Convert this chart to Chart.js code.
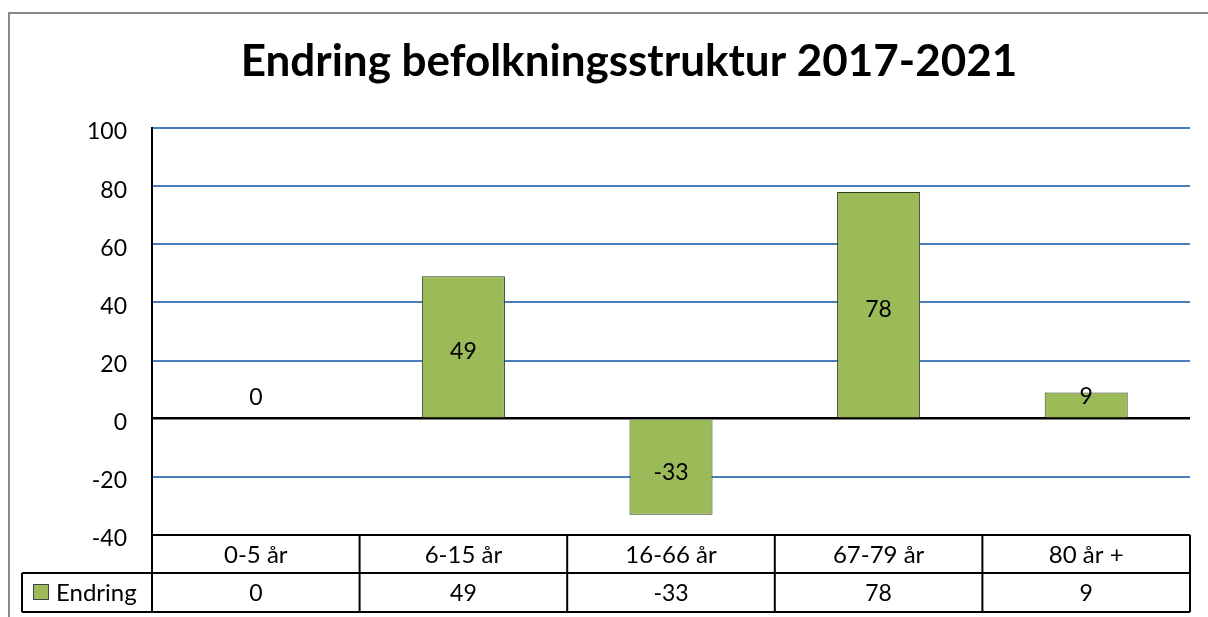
<!DOCTYPE html>
<html><head><meta charset="utf-8">
<script src="https://cdn.jsdelivr.net/npm/chart.js@4"></script>
<style>html,body{margin:0;padding:0;background:#fff}#c{display:block}</style>
</head><body>
<div style="width:1208px;height:617px"><canvas id="c" width="1208" height="617"></canvas></div>
<script>
const titleText = 'Endring befolkningsstruktur 2017-2021';
const categories = ['0-5 år', '6-15 år', '16-66 år', '67-79 år', '80 år +'];
const seriesName = 'Endring';
const values = [0, 49, -33, 78, 9];
const yTicks = [-40, -20, 0, 20, 40, 60, 80, 100];

const FONT = 'Lato, "Open Sans", sans-serif';
const GREEN = '#9BBB59';

const decor = {
  id: 'decor',
  beforeDraw(chart) {
    const ctx = chart.ctx;
    ctx.save();
    ctx.strokeStyle = '#888';
    ctx.lineWidth = 2;
    ctx.beginPath();
    ctx.moveTo(9, 640); ctx.lineTo(9, 13); ctx.lineTo(1210, 13);
    ctx.stroke();
    ctx.fillStyle = '#000';
    ctx.font = 'bold 44px ' + FONT;
    ctx.textAlign = 'center'; ctx.textBaseline = 'alphabetic';
    ctx.fillText(titleText, 629, 76);
    ctx.restore();
  },
  afterDraw(chart) {
    const ctx = chart.ctx;
    const x = chart.scales.x, area = chart.chartArea;
    const meta = chart.getDatasetMeta(0);
    ctx.save();
    // data labels
    ctx.font = '23px ' + FONT;
    ctx.fillStyle = '#000';
    ctx.textAlign = 'center'; ctx.textBaseline = 'middle';
    meta.data.forEach((bar, i) => {
      const v = values[i];
      let y = (bar.y + bar.base) / 2;
      if (v >= 0) y = Math.min(y, bar.base - 26);
      ctx.fillText(String(v), bar.x, y + 5);
    });
    // data table
    const top = area.bottom, r1 = top + 38, r2 = r1 + 39;
    const n = categories.length;
    const w = (area.right - area.left) / n;
    ctx.strokeStyle = '#000';
    ctx.lineWidth = 2;
    ctx.beginPath();
    ctx.moveTo(area.left, top); ctx.lineTo(area.right, top);
    ctx.moveTo(22, r1); ctx.lineTo(area.right, r1);
    ctx.moveTo(22, r2); ctx.lineTo(area.right, r2);
    ctx.moveTo(22, r1); ctx.lineTo(22, r2);
    for (let i = 0; i <= n; i++) {
      const xx = area.left + i * w;
      ctx.moveTo(xx, top); ctx.lineTo(xx, r2);
    }
    ctx.stroke();
    ctx.fillStyle = '#000';
    categories.forEach((c, i) => {
      const cx = x.getPixelForValue(i);
      ctx.font = '24px ' + FONT;
      ctx.fillText(c, cx, (top + r1) / 2 + 1);
      ctx.font = '23px ' + FONT;
      ctx.fillText(String(values[i]), cx, (r1 + r2) / 2 + 1);
    });
    // legend key
    ctx.fillStyle = GREEN;
    ctx.fillRect(33, 584, 16, 16);
    ctx.lineWidth = 1;
    ctx.strokeStyle = '#444';
    ctx.strokeRect(33.5, 584.5, 15, 15);
    ctx.fillStyle = '#000';
    ctx.textAlign = 'left';
    ctx.font = '24px ' + FONT;
    ctx.fillText(seriesName, 56, (r1 + r2) / 2 + 1);
    ctx.restore();
  }
};

new Chart(document.getElementById('c'), {
  type: 'bar',
  data: {
    labels: categories,
    datasets: [{
      label: seriesName,
      data: values,
      backgroundColor: GREEN,
      borderColor: '#2f3a1a',
      borderWidth: 1,
      barPercentage: 0.4,
      categoryPercentage: 1.0
    }]
  },
  options: {
    responsive: false,
    animation: false,
    events: [],
    layout: { padding: { top: 128, right: 18, bottom: 82, left: 0 } },
    plugins: { legend: { display: false }, title: { display: false }, tooltip: { enabled: false } },
    scales: {
      x: { display: false },
      y: {
        min: -40, max: 100,
        afterBuildTicks(axis) { axis.ticks = yTicks.map(v => ({ value: v })); },
        afterFit(axis) { axis.width = 152; },
        border: { display: true, color: '#000', width: 2 },
        grid: {
          drawTicks: false,
          color: ctx => (ctx.tick && (ctx.tick.value === 0 || ctx.tick.value === -40)) ? '#000' : '#4A7EBB',
          lineWidth: ctx => (ctx.tick && ctx.tick.value === 0) ? 2.5 : 2
        },
        ticks: {
          padding: 25,
          labelOffset: 4,
          color: '#000',
          font: { family: FONT, size: 23 }
        }
      }
    }
  },
  plugins: [decor]
});
</script>
</body></html>
